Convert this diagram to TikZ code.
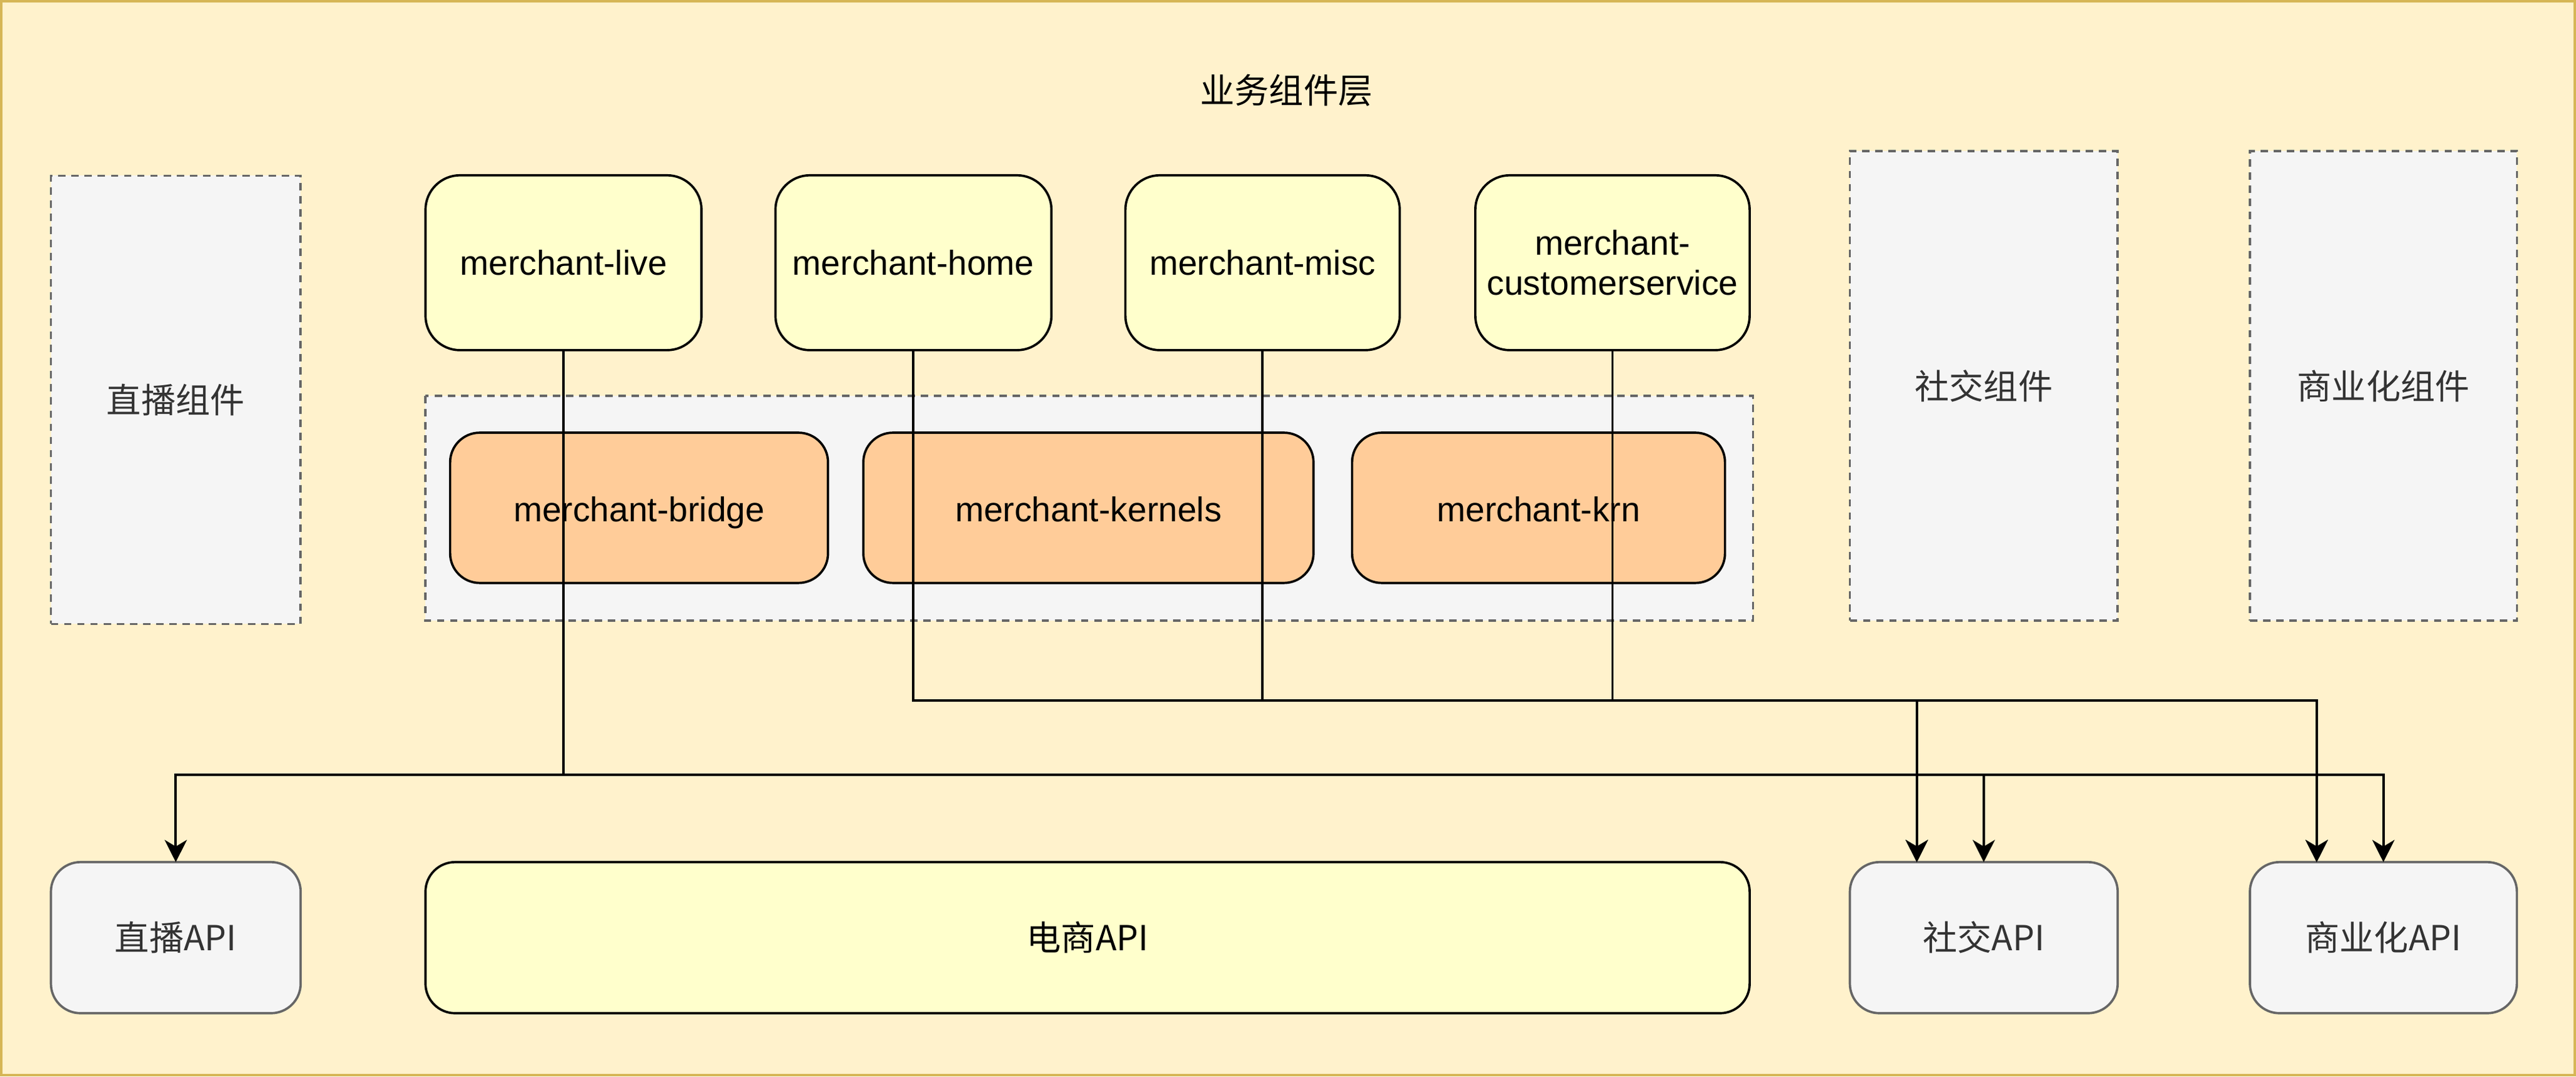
\documentclass[tikz,border=0pt]{standalone}
\usepackage{fontspec}
\setmainfont{Liberation Sans}
\newfontfamily\cjk{Noto Sans CJK SC}
\usepackage{tikz}
\usetikzlibrary{arrows.meta,calc}

\definecolor{layerfill}{HTML}{FFF2CC}
\definecolor{layerline}{HTML}{D6B656}
\definecolor{modfill}{HTML}{FFFFCC}
\definecolor{basefill}{HTML}{FFCC99}
\definecolor{grayfill}{HTML}{F5F5F5}
\definecolor{grayline}{HTML}{666666}
\definecolor{graytext}{HTML}{333333}

\begin{document}
\begin{tikzpicture}[
    x=1pt, y=-1pt,
    every node/.style={font=\fontsize{21}{24.3}\selectfont, inner sep=0pt, outer sep=0pt},
    module/.style={draw, line width=1.4pt, fill=modfill, rounded corners=21pt, minimum width=168pt, minimum height=106.5pt, align=center},
    kernel/.style={draw, line width=1.4pt, fill=basefill, rounded corners=18pt, minimum height=91.5pt, text height=21pt, text depth=4.5pt},
    other/.style={draw=grayline, fill=grayfill, line width=1.4pt, dash pattern=on 4.5pt off 3.5pt, text=graytext, font={\cjk\fontsize{21}{24.3}\selectfont}},
    api/.style={draw=grayline, fill=grayfill, line width=1.4pt, rounded corners=18pt, minimum height=92pt, text=graytext, font={\cjk\fontsize{21}{24.3}\selectfont}},
    link/.style={draw, line width=1.5pt, -{Stealth[length=13.5pt, width=13.5pt, inset=4pt]}}
]
\useasboundingbox (0,0) rectangle (1568,655.5);

% Layer background and title
\draw[fill=layerfill, draw=layerline, line width=1.5pt] (0.75,0.75) rectangle (1567.25,654.75);
\node (title) at (783,55) {\cjk 业务组件层};

% Neighbouring components
\node[other, minimum width=152pt, minimum height=273pt] (livecomp) at (107,243.5) {直播组件};
\node[other, minimum width=163pt, minimum height=286pt] (socialcomp) at (1207.5,235) {社交组件};
\node[other, minimum width=162.5pt, minimum height=286pt] (bizcomp) at (1450.75,235) {商业化组件};

% Merchant modules
\node[module] (live) at (343,160) {merchant-live};
\node[module] (home) at (556,160) {merchant-home};
\node[module, minimum width=167pt] (misc) at (768.5,160) {merchant-misc};
\node[module, minimum width=167pt] (cs) at (981.5,160) {merchant-\\customerservice};

% Base libraries
\draw[draw=grayline, fill=grayfill, line width=1.4pt, dash pattern=on 4.5pt off 3.5pt] (259,241) rectangle (1067,378);
\node[kernel, minimum width=230pt] (bridge) at (389,309.25) {merchant-bridge};
\node[kernel, minimum width=274pt] (kernels) at (662.5,309.25) {merchant-kernels};
\node[kernel, minimum width=227pt] (krn) at (936.5,309.25) {merchant-krn};

% API layer
\node[api, minimum width=152pt] (liveapi) at (107,571) {直播API};
\node[api, draw=black, text=black, fill=modfill, minimum width=806pt] (shopapi) at (662,571) {电商API};
\node[api, minimum width=163pt] (socialapi) at (1207.5,571) {社交API};
\node[api, minimum width=162.5pt] (bizapi) at (1450.75,571) {商业化API};

% Bus heights and arrow targets
\coordinate (highbus) at (0,426.5);
\coordinate (lowbus) at (0,472);
\coordinate (socialq) at ($(socialapi.north west)!.25!(socialapi.north east)$);
\coordinate (bizq) at ($(bizapi.north west)!.25!(bizapi.north east)$);

% Dependencies
\draw[link] (live.south) -- (live.south |- lowbus) -| (liveapi.north);
\draw[link] (live.south) -- (live.south |- lowbus) -| (socialapi.north);
\draw[link] (live.south) -- (live.south |- lowbus) -| (bizapi.north);
\draw[link] (home.south) -- (home.south |- highbus) -| (socialq);
\draw[link] (home.south) -- (home.south |- highbus) -| (bizq);
\draw[link] (misc.south) -- (misc.south |- highbus) -| (socialq);
\draw[link] (misc.south) -- (misc.south |- highbus) -| (bizq);
\draw[link] (cs.south) -- (cs.south |- highbus) -| (socialq);
\draw[link] (cs.south) -- (cs.south |- highbus) -| (bizq);

\end{tikzpicture}
\end{document}
